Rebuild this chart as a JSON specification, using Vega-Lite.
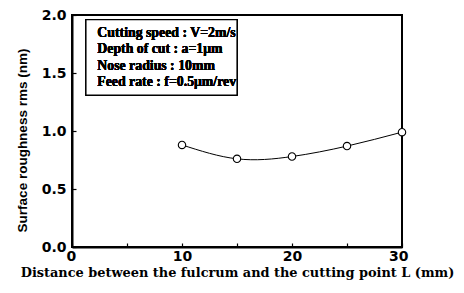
{
  "$schema": "https://vega.github.io/schema/vega-lite/v6.json",
  "width": 330,
  "height": 232,
  "autosize": "none",
  "padding": {"left": 72, "top": 15, "right": 62, "bottom": 46},
  "background": "white",
  "config": {
    "view": {"stroke": "black", "strokeWidth": 2},
    "axis": {
      "domainColor": "black", "domainWidth": 2, "tickColor": "black", "tickWidth": 1.2,
      "grid": false, "labelFont": "DejaVu Sans", "labelFontWeight": "bold", "labelFontSize": 14,
      "labelColor": "black", "titleColor": "black", "labelOverlap": false
    }
  },
  "data": {"values": [
    {"L": 10, "rms": 0.88},
    {"L": 15, "rms": 0.76},
    {"L": 20, "rms": 0.78},
    {"L": 25, "rms": 0.87},
    {"L": 30, "rms": 0.99}
  ]},
  "layer": [
    {
      "mark": {"type": "line", "interpolate": "natural", "color": "black", "strokeWidth": 1},
      "encoding": {
        "x": {"field": "L", "type": "quantitative", "scale": {"domain": [0, 30], "nice": false, "zero": true},
          "axis": {"title": "Distance between the fulcrum and the cutting point L (mm)",
            "titleFont": "DejaVu Serif", "titleFontWeight": "bold", "titleFontSize": 12.9, "titlePadding": 3,
            "values": [0, 5, 10, 15, 20, 25, 30], "labelExpr": "datum.value % 10 == 0 ? format(datum.value, 'd') : ''",
            "labelOverlap": false, "labelBound": false, "labelFlush": true, "labelFlushOffset": 6,
            "tickSize": -4, "labelPadding": 6}},
        "y": {"field": "rms", "type": "quantitative", "scale": {"domain": [0, 2], "nice": false},
          "axis": {"title": "Surface roughness rms (nm)", "titleFont": "Liberation Sans", "titleFontWeight": "bold",
            "titleFontSize": 13.5, "titlePadding": 12, "titleY": 125,
            "values": [0, 0.25, 0.5, 0.75, 1, 1.25, 1.5, 1.75, 2],
            "labelExpr": "datum.value * 2 % 1 == 0 ? format(datum.value, '.1f') : ''",
            "tickSize": -4, "labelPadding": 10, "labelFlush": false}}
      }
    },
    {
      "mark": {"type": "point", "shape": "circle", "filled": true, "fill": "white", "stroke": "black", "strokeWidth": 1.1, "size": 55, "opacity": 1},
      "encoding": {
        "x": {"field": "L", "type": "quantitative"},
        "y": {"field": "rms", "type": "quantitative"}
      }
    },
    {
      "mark": {"type": "rect", "fill": "black", "xOffset": 3, "yOffset": 3},
      "encoding": {"x": {"datum": 1.27}, "x2": {"datum": 15.0}, "y": {"datum": 1.96}, "y2": {"datum": 1.31}}
    },
    {
      "mark": {"type": "rect", "fill": "white", "stroke": "black", "strokeWidth": 1.2},
      "encoding": {"x": {"datum": 1.27}, "x2": {"datum": 15.0}, "y": {"datum": 1.96}, "y2": {"datum": 1.31}}
    },
    {
      "mark": {"type": "text", "align": "left", "baseline": "middle", "font": "Liberation Serif", "fontWeight": "bold",
        "fontSize": 13.8, "lineHeight": 16.5, "color": "black",
        "text": ["Cutting speed : V=2m/s", "Depth of cut : a=1μm", "Nose radius : 10mm", "Feed rate : f=0.5μm/rev"]},
      "encoding": {"x": {"datum": 2.3}, "y": {"datum": 1.845}}
    }
  ]
}
